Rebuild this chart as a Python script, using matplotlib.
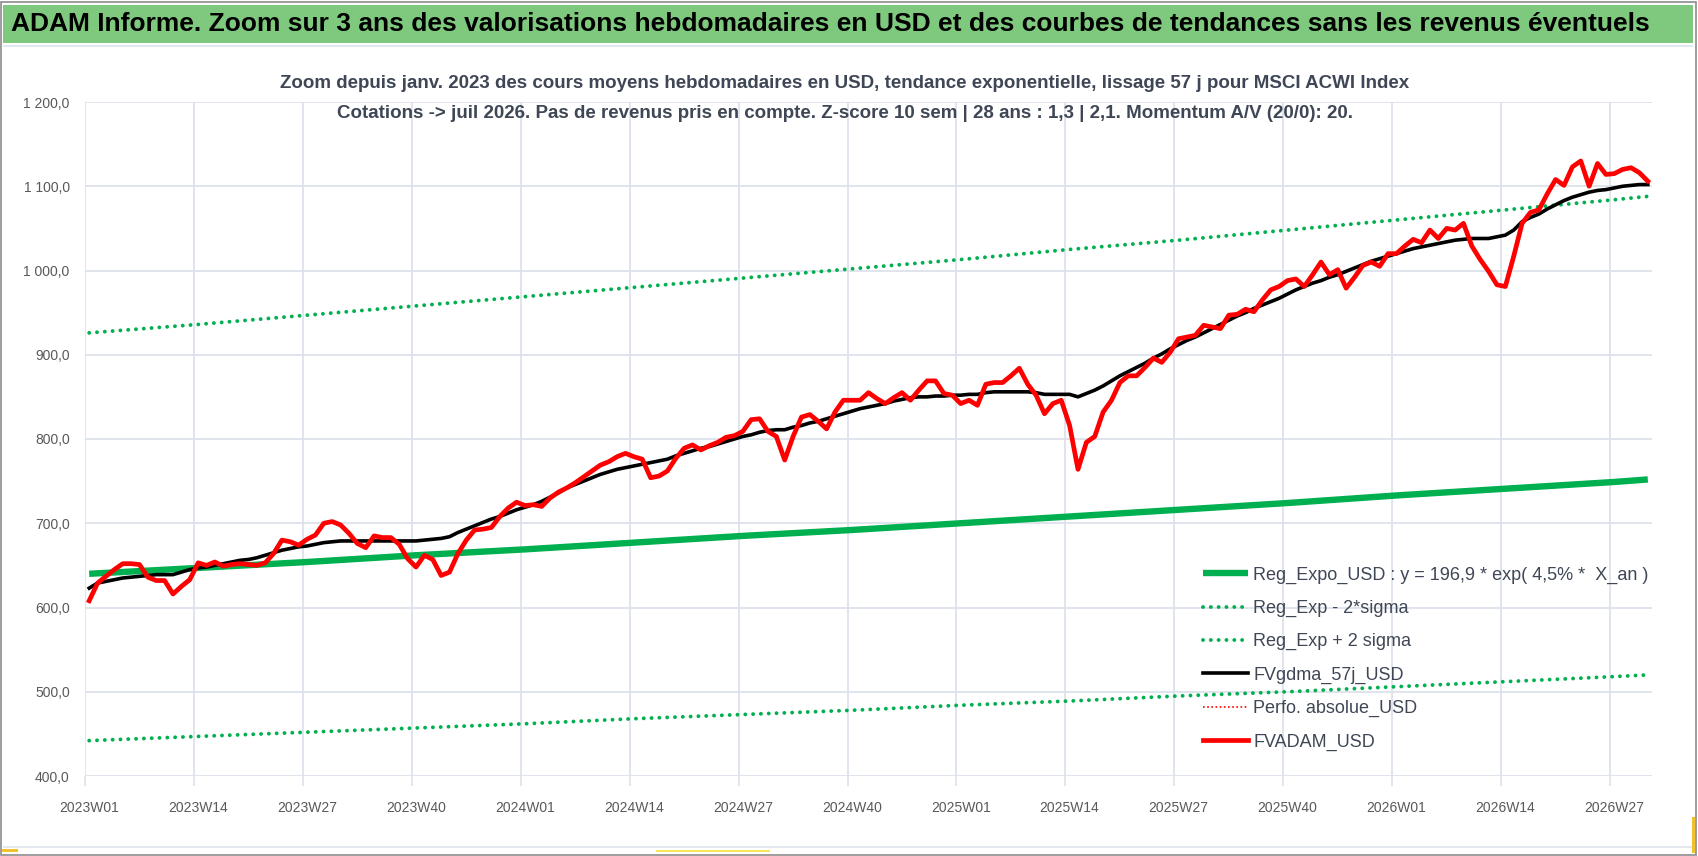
import matplotlib
matplotlib.use('Agg')
import matplotlib.pyplot as plt
import numpy as np
from matplotlib import font_manager
from matplotlib.lines import Line2D
from matplotlib.patches import Rectangle

# weekly categories 2023W01 -> 2026W31
n_weeks = 187
weeks = [f'{y}W{w:02d}' for y in (2023, 2024, 2025, 2026) for w in range(1, 53)][:n_weeks]

# FVADAM_USD, weekly average prices
fvadam_usd = [
    608, 629, 637, 645, 652, 652, 651, 636, 632, 632, 616, 625, 633, 653, 650, 654, 649, 651, 652, 651,
    650, 653, 664, 680, 678, 674, 681, 686, 700, 702, 698, 688, 676, 671, 685, 683, 683, 675, 658, 648,
    662, 657, 638, 642, 664, 680, 692, 693, 695, 708, 718, 725, 721, 722, 720, 730, 737, 742, 748, 755,
    762, 769, 773, 779, 783, 779, 776, 754, 756, 762, 777, 789, 793, 787, 792, 796, 802, 804, 809, 823,
    824, 809, 803, 775, 803, 826, 829, 821, 812, 832, 846, 846, 846, 855, 848, 842, 849, 855, 846, 858,
    869, 869, 854, 852, 842, 846, 840, 865, 867, 867, 875, 884, 865, 852, 830, 842, 846, 816, 764, 796,
    803, 832, 846, 867, 875, 875, 885, 896, 891, 903, 919, 921, 923, 935, 933, 931, 947, 948, 954, 951,
    965, 977, 981, 988, 990, 981, 995, 1010, 995, 1001, 979, 992, 1006, 1010, 1005, 1020, 1020, 1029, 1037, 1033,
    1048, 1038, 1050, 1048, 1056, 1029, 1013, 999, 983, 981, 1017, 1056, 1069, 1072, 1091, 1108, 1101, 1123, 1130, 1100,
    1127, 1114, 1115, 1120, 1122, 1116, 1106,
]

# FVgdma_57j_USD, smoothed curve
fvgdma_57j = [
    623, 629, 631, 633, 635, 636, 637, 638, 639, 639, 639, 642, 645, 647, 648, 650, 652, 654, 656, 657,
    659, 662, 665, 668, 670, 672, 673, 675, 677, 678, 679, 679, 679, 679, 679, 679, 679, 679, 679, 679,
    680, 681, 682, 684, 689, 693, 697, 701, 705, 708, 712, 716, 719, 722, 726, 731, 736, 742, 746, 750,
    754, 758, 761, 764, 766, 768, 770, 772, 774, 776, 780, 783, 786, 789, 791, 794, 797, 800, 803, 805,
    808, 810, 811, 811, 814, 816, 819, 821, 824, 827, 830, 833, 836, 838, 840, 842, 845, 847, 849, 850,
    850, 851, 851, 852, 852, 853, 853, 855, 856, 856, 856, 856, 856, 855, 853, 853, 853, 853, 850, 854,
    858, 863, 869, 875, 880, 885, 890, 896, 901, 907, 912, 917, 921, 926, 931, 936, 941, 946, 950, 955,
    959, 963, 967, 972, 977, 981, 985, 988, 992, 995, 999, 1003, 1007, 1011, 1014, 1017, 1020, 1023, 1026, 1028,
    1030, 1032, 1034, 1036, 1037, 1038, 1038, 1038, 1040, 1042, 1048, 1058, 1063, 1067, 1073, 1078, 1083, 1087, 1090, 1093,
    1095, 1096, 1098, 1100, 1101, 1102, 1102,
]

# exponential regression and +/- 2 sigma bands, read at the labelled weeks
trend_weeks = ['2023W01', '2023W14', '2023W27', '2023W40', '2024W01', '2024W14', '2024W27', '2024W40',
               '2025W01', '2025W14', '2025W27', '2025W40', '2026W01', '2026W14', '2026W27', '2026W31']
reg_expo = [640, 647, 654, 662, 669, 677, 685, 692, 700, 708, 716, 724, 733, 741, 749, 752]
reg_minus_2s = [442, 447, 452, 457, 462, 468, 473, 478, 484, 489, 495, 500, 506, 512, 518, 520]
reg_plus_2s = [926, 936, 947, 958, 969, 980, 991, 1002, 1013, 1025, 1036, 1048, 1060, 1072, 1084, 1088]

title = ("ADAM Informe. Zoom sur 3 ans des valorisations hebdomadaires en USD et des courbes "
         "de tendances sans les revenus éventuels")
subtitle = ["Zoom depuis janv. 2023 des cours moyens hebdomadaires en USD, tendance exponentielle, "
            "lissage 57 j pour MSCI ACWI Index",
            "Cotations -> juil 2026. Pas de revenus pris en compte. Z-score 10 sem | 28 ans : 1,3 | 2,1. "
            "Momentum A/V (20/0): 20."]

names = {f.name for f in font_manager.fontManager.ttflist}
narrow = 'Liberation Sans Narrow' if 'Liberation Sans Narrow' in names else 'Liberation Sans'
plt.rcParams['font.family'] = [narrow, 'DejaVu Sans']

W, H = 1698, 856
fig = plt.figure(figsize=(W / 100, H / 100), dpi=100)

# frame, green title band and the small selection marks of the screenshot
fig.patches.append(Rectangle((1 / W, 1 / H), 1 - 3 / W, 1 - 3 / H, transform=fig.transFigure,
                             fill=False, ec='#8C8C8C', lw=1.2))
fig.patches.append(Rectangle((3 / W, 1 - 43 / H), 1 - 8 / W, 38 / H, transform=fig.transFigure,
                             fc='#7FC97F', ec='none'))
fig.patches.append(Rectangle((3 / W, 1 - 47 / H), 1 - 8 / W, 2 / H, transform=fig.transFigure,
                             fc='#E3E8EE', ec='none'))
fig.patches.append(Rectangle((3 / W, 1 - 848 / H), 1 - 8 / W, 2 / H, transform=fig.transFigure,
                             fc='#E3E8EE', ec='none'))
fig.patches.append(Rectangle((2 / W, 1 - 852 / H), 16 / W, 3 / H, transform=fig.transFigure,
                             fc='#F2C12E', ec='none'))
fig.patches.append(Rectangle((656 / W, 1 - 852 / H), 114 / W, 2 / H, transform=fig.transFigure,
                             fc='#F5E65A', ec='none'))
fig.patches.append(Rectangle((1692 / W, 1 - 853 / H), 3 / W, 36 / H, transform=fig.transFigure,
                             fc='#F2C12E', ec='none'))

fig.text(11 / W, 1 - 24 / H, title, ha='left', va='center', fontsize=19, fontweight='bold', color='black')
fig.text(845 / W, 1 - 83 / H, subtitle[0], ha='center', va='center', fontsize=13.5, fontweight='bold',
         color='#3F4756')
fig.text(845 / W, 1 - 114 / H, subtitle[1], ha='center', va='center', fontsize=13.5, fontweight='bold',
         color='#3F4756')

ax = fig.add_axes([85 / W, (H - 776) / H, (1652 - 85) / W, (776 - 102) / H])
x = np.arange(n_weeks)
tx = [weeks.index(w) for w in trend_weeks]

green = '#00B050'
dots = (0, (0.01, 2.0))
ax.plot(tx, reg_expo, color=green, lw=4.6, solid_capstyle='butt', zorder=3)
ax.plot(tx, reg_minus_2s, color=green, lw=2.8, ls=dots, dash_capstyle='round', zorder=3)
ax.plot(tx, reg_plus_2s, color=green, lw=2.8, ls=dots, dash_capstyle='round', zorder=3)
ax.plot(x, fvgdma_57j, color='black', lw=2.6, zorder=4)
ax.plot(x, fvadam_usd, color='#FF0000', lw=3.4, zorder=5)

grid_c = '#DDE2EA'
ax.set_xlim(-0.5, n_weeks - 0.5)
ax.set_ylim(400, 1200)
ax.set_yticks(np.arange(400, 1201, 100))
ax.set_yticklabels([f'{v:,.1f}'.replace(',', ' ').replace('.', ',') for v in np.arange(400, 1201, 100)])
ax.set_xticks(x[::13])
ax.set_xticklabels(weeks[::13])
ax.set_xticks(np.arange(-0.5, n_weeks, 13), minor=True)
ax.tick_params(axis='x', which='major', length=0, pad=18, labelsize=10, labelcolor='#595959')
ax.tick_params(axis='x', which='minor', length=7, width=1.2, color=grid_c)
ax.tick_params(axis='y', length=0, pad=11, labelsize=10, labelcolor='#595959')
ax.grid(axis='y', which='major', color=grid_c, lw=1.3)
ax.grid(axis='x', which='minor', color=grid_c, lw=1.3)
ax.set_axisbelow(True)
for s in ax.spines.values():
    s.set_visible(False)

handles = [
    Line2D([], [], color=green, lw=4.6, solid_capstyle='butt'),
    Line2D([], [], color=green, lw=2.8, ls=dots, dash_capstyle='round'),
    Line2D([], [], color=green, lw=2.8, ls=dots, dash_capstyle='round'),
    Line2D([], [], color='black', lw=2.6),
    Line2D([], [], color='#FF0000', lw=1.2, ls=(0, (1, 1.5))),
    Line2D([], [], color='#FF0000', lw=3.4),
]
labels = ['Reg_Expo_USD : y = 196,9 * exp( 4,5% *  X_an )', 'Reg_Exp - 2*sigma', 'Reg_Exp + 2 sigma',
          'FVgdma_57j_USD', 'Perfo. absolue_USD', 'FVADAM_USD']
leg = ax.legend(handles, labels, loc='upper left', bbox_to_anchor=(0.7135, 0.311), frameon=False,
                fontsize=13, handlelength=2.5, handletextpad=0.27, labelspacing=0.9,
                borderpad=0, borderaxespad=0)
for t in leg.get_texts():
    t.set_color('#3F4756')

fig.savefig('out.png', dpi=100)
